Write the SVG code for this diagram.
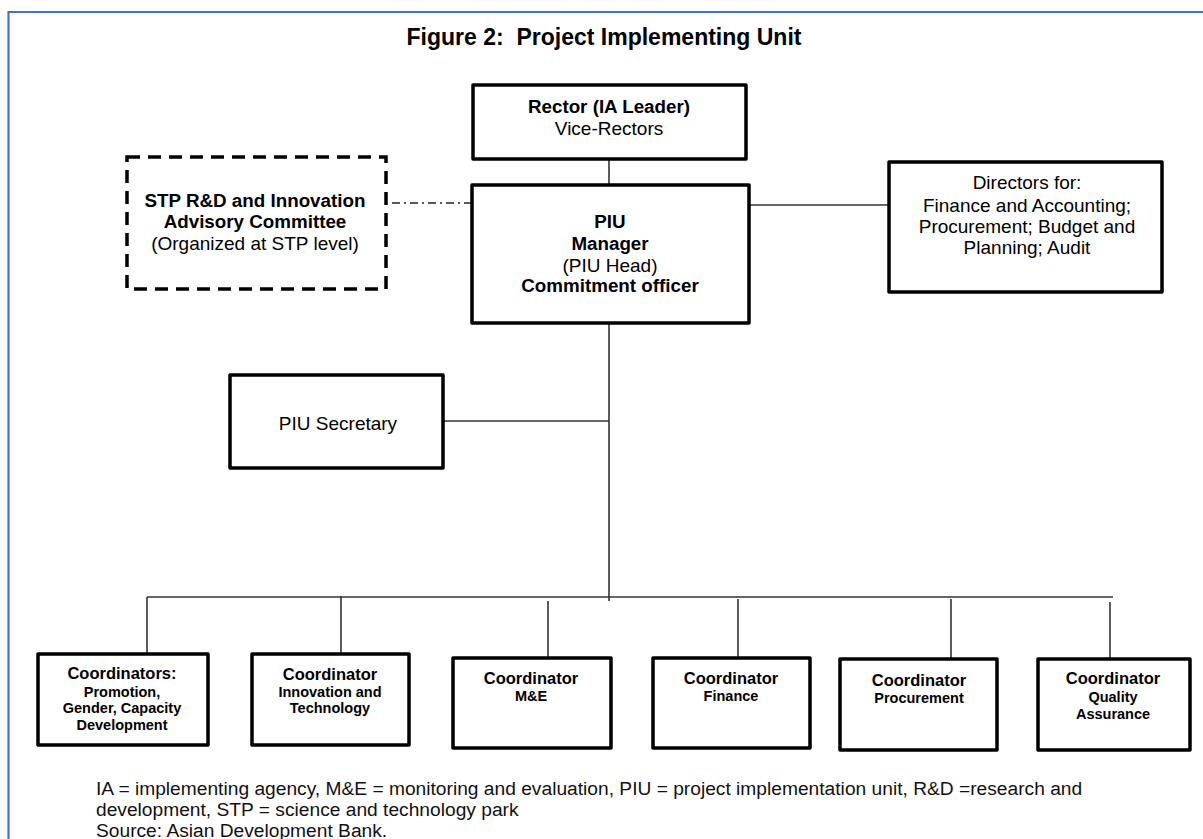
<svg xmlns="http://www.w3.org/2000/svg" width="1203" height="839" viewBox="0 0 1203 839">
  <style>
    .box { fill: #fff; stroke: #000; stroke-width: 3.5; stroke-linejoin: round; }
    .dashed { fill: #fff; stroke: #000; stroke-width: 3.5; stroke-dasharray: 13 8; }
    .link { fill: none; stroke: #333; stroke-width: 1.6; }
    .dashdot { fill: none; stroke: #222; stroke-width: 1.4; stroke-dasharray: 8 4 2 4; }
    text { font-family: "Liberation Sans", Arial, sans-serif; fill: #000; text-anchor: middle; }
    .b { font-weight: bold; font-size: 18.8px; }
    .n { font-size: 19px; }
    .cb { font-weight: bold; font-size: 16.5px; }
    .cs { font-weight: bold; font-size: 14.5px; }
    .title { font-weight: bold; font-size: 23px; }
    .note { font-size: 19.2px; text-anchor: start; fill: #111; }
  </style>
  <rect width="1203" height="839" fill="#fff"/>
  <!-- page frame -->
  <path d="M8.5,839 V12 H1203" fill="none" stroke="#4472C4" stroke-width="2.2"/>

  <text class="title" x="604" y="45" xml:space="preserve">Figure 2:  Project Implementing Unit</text>

  <!-- connectors -->
  <g id="connectors">
    <line class="link" x1="609" y1="159" x2="609" y2="184"/>
    <line class="link" x1="609" y1="323" x2="609" y2="601"/>
    <line class="dashdot" x1="392" y1="203" x2="471" y2="203"/>
    <line class="link" x1="749" y1="205" x2="888" y2="205"/>
    <line class="link" x1="443" y1="421" x2="609" y2="421"/>
    <line class="link" x1="147" y1="597" x2="1113" y2="597"/>
    <line class="link" x1="147" y1="597" x2="147" y2="653"/>
    <line class="link" x1="341" y1="596" x2="341" y2="653"/>
    <line class="link" x1="548" y1="601" x2="548" y2="657"/>
    <line class="link" x1="738" y1="599" x2="738" y2="657"/>
    <line class="link" x1="951" y1="599" x2="951" y2="658"/>
    <line class="link" x1="1110" y1="602" x2="1110" y2="658"/>
  </g>

  <g id="rector">
    <rect class="box" x="473" y="85" width="273" height="74"/>
    <text class="b" x="609" y="113">Rector (IA Leader)</text>
    <text class="n" x="609" y="135">Vice-Rectors</text>
  </g>

  <g id="piu-manager">
    <rect class="box" x="472" y="185" width="277" height="138"/>
    <text class="b" x="610" y="228">PIU</text>
    <text class="b" x="610" y="250">Manager</text>
    <text class="n" x="610" y="272">(PIU Head)</text>
    <text class="b" x="610" y="292">Commitment officer</text>
  </g>

  <g id="advisory-committee">
    <rect class="dashed" x="127" y="157" width="259" height="132"/>
    <text class="b" x="255" y="206.5">STP R&amp;D and Innovation</text>
    <text class="b" x="255" y="228">Advisory Committee</text>
    <text class="n" x="255" y="249.5">(Organized at STP level)</text>
  </g>

  <g id="directors">
    <rect class="box" x="889" y="162" width="273" height="130"/>
    <text class="n" x="1027" y="189">Directors for:</text>
    <text class="n" x="1027" y="211.5">Finance and Accounting;</text>
    <text class="n" x="1027" y="232.5">Procurement; Budget and</text>
    <text class="n" x="1027" y="253.5">Planning; Audit</text>
  </g>

  <g id="piu-secretary">
    <rect class="box" x="230" y="375" width="213" height="93"/>
    <text class="n" x="338" y="429.5">PIU Secretary</text>
  </g>

  <g id="coord-promotion">
    <rect class="box" x="38" y="654" width="170" height="91"/>
    <text class="cb" x="122" y="679">Coordinators:</text>
    <text class="cs" x="122" y="697">Promotion,</text>
    <text class="cs" x="122" y="713">Gender, Capacity</text>
    <text class="cs" x="122" y="730">Development</text>
  </g>

  <g id="coord-innovation">
    <rect class="box" x="252" y="654" width="157" height="91"/>
    <text class="cb" x="330" y="680">Coordinator</text>
    <text class="cs" x="330" y="697">Innovation and</text>
    <text class="cs" x="330" y="713">Technology</text>
  </g>

  <g id="coord-me">
    <rect class="box" x="453" y="658" width="158" height="90"/>
    <text class="cb" x="531" y="683.5">Coordinator</text>
    <text class="cs" x="531" y="701">M&amp;E</text>
  </g>

  <g id="coord-finance">
    <rect class="box" x="653" y="658" width="157" height="90"/>
    <text class="cb" x="731" y="683.5">Coordinator</text>
    <text class="cs" x="731" y="701">Finance</text>
  </g>

  <g id="coord-procurement">
    <rect class="box" x="840" y="659" width="157" height="91"/>
    <text class="cb" x="919" y="686">Coordinator</text>
    <text class="cs" x="919" y="703">Procurement</text>
  </g>

  <g id="coord-quality">
    <rect class="box" x="1038" y="659" width="152" height="91"/>
    <text class="cb" x="1113" y="684">Coordinator</text>
    <text class="cs" x="1113" y="702">Quality</text>
    <text class="cs" x="1113" y="719">Assurance</text>
  </g>

  <!-- footnote -->
  <text class="note" x="96" y="795">IA = implementing agency, M&amp;E = monitoring and evaluation, PIU = project implementation unit, R&amp;D =research and</text>
  <text class="note" x="96" y="816">development, STP = science and technology park</text>
  <text class="note" x="96" y="837">Source: Asian Development Bank.</text>
</svg>
